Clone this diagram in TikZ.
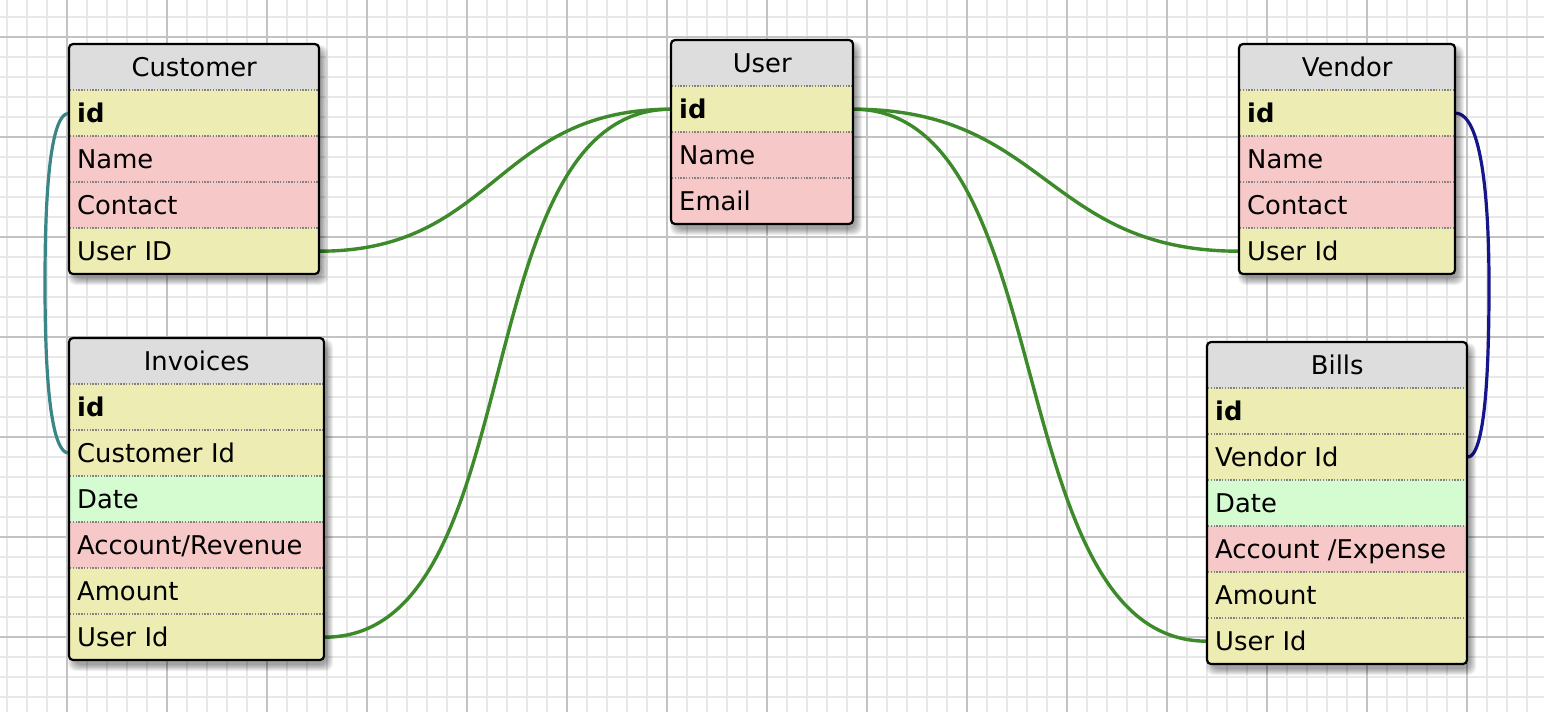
\documentclass[tikz,border=0pt]{standalone}
\usepackage{fontspec}
\setmainfont{DejaVu Sans}
\usetikzlibrary{calc}
\definecolor{hdr}{RGB}{221,221,221}
\definecolor{ylw}{RGB}{237,236,178}
\definecolor{pnk}{RGB}{247,200,200}
\definecolor{grn}{RGB}{212,252,208}
\definecolor{linkc}{RGB}{60,138,42}
\definecolor{tealc}{RGB}{58,134,134}
\definecolor{navyc}{RGB}{22,22,140}
\definecolor{sepc}{RGB}{130,130,130}
\definecolor{minorc}{RGB}{232,232,232}
\definecolor{majorc}{RGB}{195,195,195}
\pgfdeclarelayer{bg}
\pgfsetlayers{bg,main}
\tikzset{
  rowtext/.style={inner xsep=8pt, inner ysep=0pt, text height=18pt, text depth=0pt,
    minimum height=46pt, align=left, anchor=north west},
  hdrtext/.style={inner xsep=8pt, inner ysep=0pt, text height=18pt, text depth=0pt,
    minimum height=46pt, align=center, anchor=north west},
  tframe/.style={draw=black, line width=2.2pt, rounded corners=4pt},
  septr/.style={draw=sepc, line width=1.6pt, dash pattern=on 1.4pt off 1.4pt},
  conn/.style={line width=3.4pt, draw=linkc},
  selfconn/.style={line width=3.2pt},
  minorline/.style={draw=minorc, line width=1.5pt},
  majorline/.style={draw=majorc, line width=2pt},
}
% #1 name, #2 x, #3 y, #4 width, #5 title, #6 rows color/text, #7 number of rows
\newcommand\ertable[7]{%
  \pgfmathsetmacro\tw{#4-16}%
  \pgfmathsetmacro\tb{#3+46*(#7+1)}%
  \foreach \k in {0,...,6}
    \fill[black, opacity=0.06, rounded corners=8pt] (#2+5-\k,#3+7-\k) rectangle (#2+#4+3+\k,\tb+5+\k);
  \begin{scope}
    \clip[rounded corners=4pt] (#2,#3) rectangle (#2+#4,\tb);
    \fill[hdr] (#2,#3) rectangle (#2+#4,#3+46);
    \foreach \c/\t [count=\i] in {#6}
      \fill[\c] (#2,#3+46*\i) rectangle (#2+#4,#3+46*\i+46);
  \end{scope}
  \node[hdrtext, text width=\tw pt] (#1-h) at (#2,#3) {#5};
  \foreach \c/\t [count=\i] in {#6} {
    \node[rowtext, text width=\tw pt] (#1-\i) at (#2,#3+46*\i) {\t};
    \draw[septr] (#2+1,#3+46*\i) -- (#2+#4-1,#3+46*\i);
  }
  \draw[tframe] (#2,#3) rectangle (#2+#4,\tb);
}
\begin{document}
\begin{tikzpicture}[x=1pt, y=-1pt, font=\fontsize{25.8}{30}\selectfont]
\useasboundingbox (0,0) rectangle (1544,712);
\begin{pgfonlayer}{bg}
  \fill[white] (0,0) rectangle (1544,712);
  \foreach \x in {7,27,...,1543} \draw[minorline] (\x,0) -- (\x,712);
  \foreach \y in {17,37,...,712} \draw[minorline] (0,\y) -- (1544,\y);
  \foreach \x in {67,167,...,1467} \draw[majorline] (\x,0) -- (\x,712);
  \foreach \y in {37,137,...,637} \draw[majorline] (0,\y) -- (1544,\y);
\end{pgfonlayer}

\ertable{cust}{69}{44}{250}{Customer}{ylw/\textbf{id}, pnk/Name, pnk/Contact, ylw/User ID}{4}
\ertable{user}{671}{40}{182}{User}{ylw/\textbf{id}, pnk/Name, pnk/Email}{3}
\ertable{vend}{1239}{44}{216}{Vendor}{ylw/\textbf{id}, pnk/Name, pnk/Contact, ylw/User Id}{4}
\ertable{inv}{69}{338}{255}{Invoices}{ylw/\textbf{id}, ylw/Customer Id, grn/Date, pnk/{Account/Revenue}, ylw/Amount, ylw/User Id}{6}
\ertable{bill}{1207}{342}{260}{Bills}{ylw/\textbf{id}, ylw/Vendor Id, grn/Date, pnk/{Account /Expense}, ylw/Amount, ylw/User Id}{6}

\coordinate (tmid) at (45,283);
\coordinate (nmid) at (1489,285);
\begin{pgfonlayer}{bg}
  \draw[conn] (cust-4.east) .. controls +(176,0) and +(-176,0) .. (user-1.west);
  \draw[conn] (inv-6.east) .. controls +(210,0) and +(-210,0) .. (user-1.west);
  \draw[conn] (user-1.east) .. controls +(193,0) and +(-193,0) .. (vend-4.west);
  \draw[conn] (user-1.east) .. controls +(210,0) and +(-210,0) .. (bill-6.west);
  \draw[selfconn, tealc] (cust-1.west) .. controls +(-22,0) and +(0,-60) .. (tmid)
     .. controls +(0,60) and +(-22,0) .. (inv-2.west);
  \draw[selfconn, navyc] (vend-1.east) .. controls +(30,0) and +(0,-60) .. (nmid)
     .. controls +(0,60) and +(20,0) .. (bill-2.east);
\end{pgfonlayer}
\end{tikzpicture}
\end{document}
